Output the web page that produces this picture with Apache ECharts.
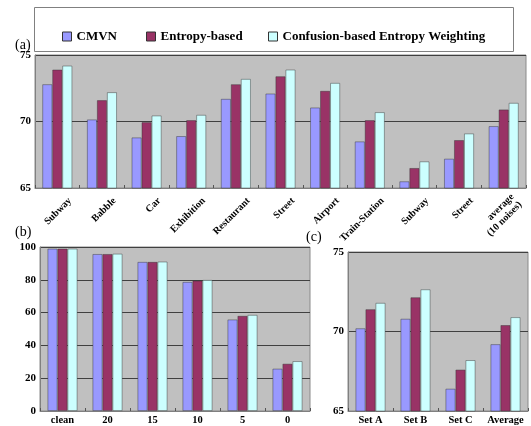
<!DOCTYPE html>
<html>
<head>
<meta charset="utf-8">
<script src="https://cdn.jsdelivr.net/npm/echarts@6/dist/echarts.min.js"></script>
<style>
  html, body { margin: 0; padding: 0; background: #fff; }
  #chart { width: 531px; height: 426px; }
</style>
</head>
<body>
<div id="chart"></div>
<script>
// Methods compared in every panel
const seriesNames = ['CMVN', 'Entropy-based', 'Confusion-based Entropy Weighting'];
const seriesColors = ['#9999FF', '#993366', '#CCFFFF'];

// (a) accuracy per noise type
const noiseCategories = ['Subway', 'Babble', 'Car', 'Exhibition', 'Restaurant', 'Street',
  'Airport', 'Train-Station', 'Subway', 'Street', 'average\n(10 noises)'];
const cmvnNoise    = [72.8, 70.15, 68.8, 68.9, 71.7, 72.1, 71.05, 68.5, 65.5, 67.2, 69.65];
const entropyNoise = [73.9, 71.6, 69.95, 70.1, 72.8, 73.4, 72.3, 70.1, 66.5, 68.6, 70.9];
const confNoise    = [74.2, 72.2, 70.45, 70.5, 73.2, 73.9, 72.9, 70.7, 67.0, 69.1, 71.4];
const noiseTicks   = [65, 70, 75];

// (b) accuracy per SNR
const snrCategories = ['clean', '20', '15', '10', '5', '0'];
const cmvnSnr    = [99.0, 95.7, 90.9, 78.7, 55.8, 25.8];
const entropySnr = [99.0, 95.7, 90.9, 79.5, 58.0, 28.8];
const confSnr    = [99.0, 95.9, 91.1, 79.9, 58.6, 30.4];
const snrTicks   = [0, 20, 40, 60, 80, 100];

// (c) accuracy per test set
const setCategories = ['Set A', 'Set B', 'Set C', 'Average'];
const cmvnSet    = [70.2, 70.8, 66.4, 69.2];
const entropySet = [71.4, 72.15, 67.6, 70.4];
const confSet    = [71.8, 72.65, 68.2, 70.9];
const setTicks   = [65, 70, 75];

const serif = '"Liberation Serif", "Times New Roman", serif';

const chart = echarts.init(document.getElementById('chart'), null, { renderer: 'canvas' });

function grid(left, top, width, height) {
  return {
    left, top, width, height,
    show: true,
    backgroundColor: '#C0C0C0',
    borderColor: '#8a8a8a',
    borderWidth: 1,
    containLabel: false
  };
}

function xAxis(gridIndex, data, labelExtra) {
  return Object.assign({
    type: 'category',
    gridIndex,
    data,
    axisLine: { show: true, lineStyle: { color: '#808080', width: 1 } },
    axisTick: { show: true, inside: true, length: 3, alignWithLabel: false, lineStyle: { color: '#555' } },
    splitLine: { show: false },
    axisLabel: {
      interval: 0,
      color: '#000',
      fontFamily: serif,
      fontWeight: 'bold',
      fontSize: 10.5,
      margin: 4
    }
  }, labelExtra || {});
}

function yAxis(gridIndex, ticks) {
  return {
    type: 'value',
    gridIndex,
    min: ticks[0],
    max: ticks[ticks.length - 1],
    interval: ticks[1] - ticks[0],
    axisLine: { show: true, lineStyle: { color: '#808080' } },
    axisTick: { show: false },
    splitLine: { show: true, lineStyle: { color: '#404040', width: 1 } },
    axisLabel: {
      color: '#000',
      fontFamily: serif,
      fontWeight: 'bold',
      fontSize: 11,
      margin: 4
    }
  };
}

function barSeries(idx, gridIndex, values) {
  return {
    type: 'bar',
    name: seriesNames[idx],
    xAxisIndex: gridIndex,
    yAxisIndex: gridIndex,
    data: values,
    barWidth: 10,
    barGap: '0%',
    itemStyle: {
      color: seriesColors[idx],
      borderColor: 'rgba(50,50,50,0.55)',
      borderWidth: 0.8
    },
    emphasis: { disabled: true },
    animation: false
  };
}

function legendItem(name, left) {
  return {
    data: [name],
    left,
    top: 25,
    icon: 'rect',
    itemWidth: 9,
    itemHeight: 9,
    selectedMode: false,
    textStyle: { fontFamily: serif, fontWeight: 'bold', fontSize: 13, color: '#000' },
    itemStyle: { borderColor: '#333', borderWidth: 1 }
  };
}

const option = {
  backgroundColor: '#fff',
  animation: false,
  legend: [
    legendItem(seriesNames[0], 57),
    legendItem(seriesNames[1], 141),
    legendItem(seriesNames[2], 263)
  ],
  graphic: [
    {
      type: 'rect', left: 34, top: 7, z: -1,
      shape: { width: 479, height: 44 },
      style: { fill: '#fff', stroke: '#808080', lineWidth: 1 }
    },
    { type: 'text', left: 15, top: 38, style: { text: '(a)', font: '14px ' + serif, fill: '#000' } },
    { type: 'text', left: 15, top: 225, style: { text: '(b)', font: '14px ' + serif, fill: '#000' } },
    { type: 'text', left: 306, top: 230, style: { text: '(c)', font: '14px ' + serif, fill: '#000' } }
  ],
  grid: [
    grid(35, 55, 491, 133),
    grid(40, 247, 270, 165),
    grid(348, 252, 180, 160)
  ],
  xAxis: [
    xAxis(0, noiseCategories, {
      axisLabel: {
        interval: 0,
        rotate: 45,
        color: '#000',
        fontFamily: serif,
        fontWeight: 'bold',
        fontSize: 10,
        lineHeight: 11,
        align: 'right',
        margin: 24,
        padding: [0, -18, 0, 0]
      }
    }),
    xAxis(1, snrCategories),
    xAxis(2, setCategories)
  ],
  yAxis: [
    yAxis(0, noiseTicks),
    yAxis(1, snrTicks),
    yAxis(2, setTicks)
  ],
  series: [
    barSeries(0, 0, cmvnNoise),
    barSeries(1, 0, entropyNoise),
    barSeries(2, 0, confNoise),
    barSeries(0, 1, cmvnSnr),
    barSeries(1, 1, entropySnr),
    barSeries(2, 1, confSnr),
    barSeries(0, 2, cmvnSet),
    barSeries(1, 2, entropySet),
    barSeries(2, 2, confSet)
  ]
};

chart.setOption(option);
</script>
</body>
</html>
